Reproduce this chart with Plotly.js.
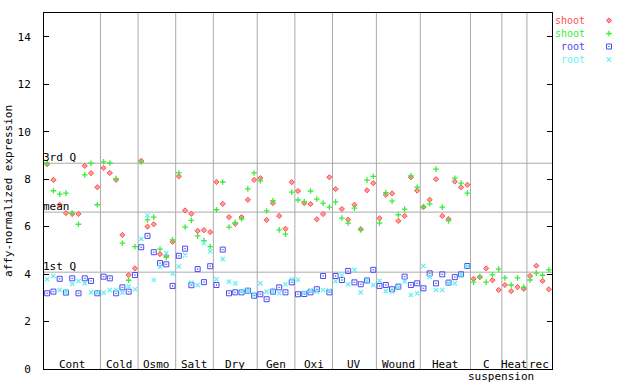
<!DOCTYPE html>
<html>
<head>
<meta charset="utf-8">
<script src="https://cdn.plot.ly/plotly-3.0.1.min.js"></script>
<style>html,body{margin:0;padding:0;background:#fff;}#chart{width:640px;height:384px;}</style>
</head>
<body>
<div id="chart"></div>
<script>
// ---- data ----
const groupLabels = ["Cont","Cold","Osmo","Salt","Dry","Gen","Oxi","UV","Wound","Heat","C","Heat","rec"];
const groupSizes  = [9,6,6,6,7,6,6,7,7,8,5,4,4];
const subLabel = "suspension";

const shootRed = [
  8.63,7.97,6.92,6.57,6.53,6.53,8.56,8.25,7.66,
  8.47,8.26,7.97,5.65,3.96,4.24,
  8.77,6.00,6.10,4.84,4.77,5.36,
  8.12,6.68,6.54,5.82,5.85,5.77,
  7.88,6.96,6.40,6.12,6.40,7.13,7.97,
  8.04,6.28,6.99,6.45,5.91,7.87,
  7.50,6.99,6.95,6.31,6.53,8.08,
  7.58,6.74,6.29,6.92,5.89,7.53,7.83,
  6.35,7.34,7.40,6.24,6.45,8.08,7.52,
  6.82,7.13,8.00,6.45,6.32,7.90,7.66,7.76,
  3.80,3.87,4.24,3.74,3.33,
  3.54,3.28,3.45,3.38,
  3.92,4.35,3.71,3.36
];
const shootGreen = [
  8.67,7.51,7.37,7.41,6.57,6.10,8.18,8.67,6.92,
  8.73,8.68,8.02,5.30,3.74,5.16,
  8.72,6.28,6.40,5.05,4.70,5.44,
  8.26,5.98,6.26,5.61,5.41,5.16,
  6.71,7.88,5.98,6.17,6.32,7.59,8.26,
  7.93,6.66,7.09,5.86,5.68,7.45,
  7.12,7.05,7.50,7.16,6.99,6.82,
  7.04,6.36,6.15,6.78,5.86,7.96,8.12,
  6.15,7.43,7.07,6.50,6.74,8.14,7.66,
  6.84,6.96,8.42,6.82,6.24,8.04,7.83,7.41,
  3.66,3.90,3.66,3.97,4.21,
  3.84,3.54,3.84,3.45,
  3.75,4.04,3.95,4.18
];
const rootBlue = [
  3.19,3.26,3.80,3.22,3.82,3.19,3.82,3.71,3.19,
  3.89,3.82,3.19,3.44,3.26,3.96,
  5.13,5.61,4.92,4.46,4.41,3.50,
  4.77,5.07,3.53,4.21,3.66,4.33,
  3.54,5.03,3.19,3.23,3.23,3.30,3.09,
  3.15,2.94,3.26,3.44,3.23,3.65,
  3.15,3.16,3.23,3.36,3.92,3.23,
  3.92,3.75,4.13,3.65,3.57,3.73,4.18,
  3.50,3.54,3.36,3.47,3.89,3.54,3.61,
  3.40,4.03,3.61,3.99,3.64,3.87,3.99,4.34,
  null,null,null,null,null,
  null,null,null,null,
  null,null,null,null
];
const rootCyan = [
  3.78,3.92,3.33,3.25,3.58,3.71,3.61,3.23,3.22,
  3.22,3.33,3.33,3.22,3.47,3.36,
  5.48,6.47,3.75,4.31,4.88,4.03,
  4.32,4.80,3.64,3.53,5.30,4.96,
  3.78,4.63,3.68,3.61,3.28,3.30,3.16,
  3.61,3.26,3.26,3.19,3.57,3.78,
  3.76,3.22,3.33,3.26,3.33,3.31,
  3.70,3.94,3.57,4.18,3.23,3.73,3.54,
  3.72,3.28,3.26,3.45,3.69,3.12,3.19,
  4.34,3.88,3.33,3.33,3.63,3.61,3.97,4.33,
  null,null,null,null,null,
  null,null,null,null,
  null,null,null,null
];
const quartileNames  = ["3rd Q","mean","1st Q"];
const quartileValues = [8.67, 6.61, 4.08];
const seriesNames  = ["shoot","shoot","root","root"];
const yTicks = [0,2,4,6,8,10,12,14];

// ---- build ----
const N = groupSizes.reduce((a,b)=>a+b,0);
const xs = Array.from({length:N},(_,i)=>i);
const mono = "DejaVu Sans Mono, monospace";
const COL = {red:"#ff5050", green:"#3cec3c", blue:"#4a4af0", cyan:"#66f2f2"};

const markers = [
  {symbol:"diamond", size:4, color:"#ff9a9a", line:{color:COL.red, width:1}},
  {symbol:"cross-thin", size:4, color:COL.green, line:{color:COL.green, width:1.3}},
  {symbol:"square-open-dot", size:5, color:COL.blue, line:{color:COL.blue, width:1}},
  {symbol:"x-thin", size:4.2, color:COL.cyan, line:{color:COL.cyan, width:1.3}}
];
const seriesData = [shootRed, shootGreen, rootBlue, rootCyan];
const traces = seriesData.map((ys,k)=>({x:xs, y:ys, type:"scatter", mode:"markers",
  hoverinfo:"skip", marker:markers[k]}));

// legend keys on a small hidden axis at the right (rows measured in px from the plot bottom)
const legendRows = [348.5, 335.5, 322.5, 309.5];
const legendColors = [COL.red, COL.green, COL.blue, COL.cyan];
legendRows.forEach((yy,k)=>{
  traces.push({x:[0.5], y:[yy], xaxis:"x2", yaxis:"y2", type:"scatter", mode:"markers",
    hoverinfo:"skip", marker:markers[k]});
});

const shapes = [];
const annotations = [];
let start = 0;
groupSizes.forEach((n,g)=>{
  if (start > 0) {
    shapes.push({type:"line", xref:"x", yref:"paper", x0:start-0.5, x1:start-0.5, y0:0, y1:1,
      line:{color:"#aaaaaa", width:1}, layer:"below"});
  }
  annotations.push({xref:"x", yref:"paper", x:start+(n-1)/2, y:0, yanchor:"bottom", yshift:-4,
    text:groupLabels[g], showarrow:false, font:{family:mono, size:11, color:"#000"}});
  if (groupLabels[g] === "C") {
    annotations.push({xref:"x", yref:"paper", x:start-0.5, y:0, xanchor:"left", yanchor:"top",
      xshift:-4, yshift:1, text:subLabel, showarrow:false, font:{family:mono, size:11, color:"#000"}});
  }
  start += n;
});
quartileValues.forEach((q,k)=>{
  shapes.push({type:"line", xref:"x", yref:"y", x0:-0.5, x1:N-0.5, y0:q, y1:q,
    line:{color:"#aaaaaa", width:1}, layer:"below"});
  annotations.push({xref:"x", yref:"y", x:-0.5, y:q, xanchor:"left", yanchor:"bottom", yshift:-3, xshift:-3,
    text:quartileNames[k], showarrow:false, font:{family:mono, size:11, color:"#000"}});
});
// legend labels as one right-aligned multi-line text
const legendText = seriesNames.map((s,k)=>`<span style="color:${legendColors[k]}">${s}</span>`).join("<br>");
annotations.push({xref:"paper", yref:"y2", x:(587-44)/586, y:(legendRows[0]+legendRows[3])/2,
  xanchor:"right", yanchor:"middle", align:"right", text:legendText, showarrow:false,
  font:{family:mono, size:10, color:"#000"}});

const layout = {
  width:640, height:384,
  margin:{l:44, r:10, t:13, b:15, pad:0},
  paper_bgcolor:"#fff", plot_bgcolor:"#fff",
  showlegend:false,
  font:{family:mono, size:11, color:"#000"},
  xaxis:{domain:[0, 508/586], range:[-0.5, N-0.5], showgrid:false, zeroline:false,
    showticklabels:false, ticks:"", showline:true, mirror:true, linecolor:"#000", linewidth:1, fixedrange:true},
  yaxis:{range:[0,15], tickvals:yTicks, ticktext:yTicks.map(String), ticks:"inside", ticklen:5,
    tickcolor:"#000", showline:true, mirror:"ticks", linecolor:"#000", linewidth:1,
    showgrid:false, zeroline:false, ticklabelstandoff:10,
    tickfont:{family:mono, size:11, color:"#000"},
    title:{text:"affy-normalized expression", font:{family:mono, size:11, color:"#000"}, standoff:2}},
  xaxis2:{domain:[(600-44)/586, (618-44)/586], range:[0,1], visible:false, anchor:"y2", fixedrange:true},
  yaxis2:{domain:[0,1], range:[0,356], visible:false, anchor:"x2", fixedrange:true},
  shapes:shapes,
  annotations:annotations
};

Plotly.newPlot("chart", traces, layout, {staticPlot:true, displayModeBar:false});
</script>
</body>
</html>
